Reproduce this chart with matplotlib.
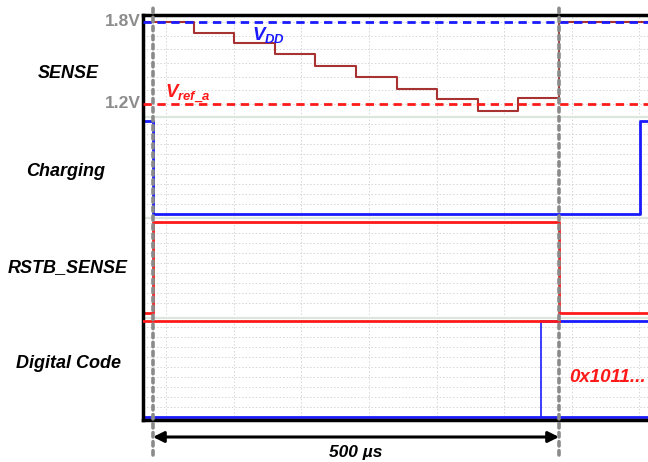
import matplotlib
matplotlib.use('Agg')
import matplotlib.pyplot as plt
import numpy as np

plt.rcParams['font.family'] = ['Liberation Sans', 'DejaVu Sans']
plt.rcParams['mathtext.fontset'] = 'custom'
plt.rcParams['mathtext.it'] = 'Liberation Sans:italic:bold'
plt.rcParams['mathtext.rm'] = 'Liberation Sans:bold'

# time axis in microseconds
t_start, t_end = -12.3, 609.6
t_mark = [0, 500]

# SENSE staircase (V) - one step every 50 us, then reset to VDD
sense_t = [-12.3, 50, 100, 150, 200, 250, 300, 350, 400, 450, 500, 609.6]
sense_v = [1.8, 1.722, 1.644, 1.566, 1.48, 1.395, 1.312, 1.234, 1.149, 1.246, 1.8, 1.8]
vdd = 1.8
vref = 1.2

# digital traces (1 = high, 0 = low)
chg_t = [-12.3, 0, 600, 609.6]
chg_v = [1, 0, 1, 1]
rst_t = [-12.3, 0, 500, 609.6]
rst_v = [0, 1, 0, 0]
code_red_t = [-12.3, 500]
code_blue_t = [477.8, 609.6]

labels = ['SENSE', 'Charging', 'RSTB_SENSE', 'Digital Code']

fig = plt.figure(figsize=(6.48, 4.62), dpi=100)
ax = fig.add_axes([143 / 648, 42 / 462, 1 - 143 / 648, 405 / 462])
ax.set_xlim(t_start, t_end)
ax.set_ylim(0, 40.5)


# lane helpers: y in "pixel/10" units from the bottom of the axes
def sense_y(v):
    return 31.6 + (np.asarray(v) - 1.2) / 0.6 * 8.2


lanes = {'chg': (20.6, 29.9), 'rst': (10.7, 19.8), 'code': (0.35, 9.95)}


def lane_y(key, v):
    lo, hi = lanes[key]
    return lo + np.asarray(v) * (hi - lo)


# grid
grid_kw = dict(color='#d6d6d6', lw=0.7, ls=(0, (1.5, 2)), zorder=0)
for tg in np.arange(16, t_end, 83.3):
    ax.axvline(tg, **grid_kw)
for v in np.arange(1.2, 1.85, 0.1):
    ax.axhline(sense_y(v), **grid_kw)
for base in [20.6, 10.7, 0.35]:
    for k in range(1, 10):
        ax.axhline(base + k * 1.0, **grid_kw)
for sep in [30.3, 20.2, 10.2]:
    ax.axhline(sep, color='#dde6dd', lw=1.6, zorder=0)

# SENSE lane
ax.plot(sense_t, sense_y(sense_v), drawstyle='steps-post', color='#a83232', lw=1.5, zorder=2)
ax.axhline(sense_y(vdd), color='#1a1aff', lw=2, ls=(0, (3, 2)), zorder=3)
ax.axhline(sense_y(vref), color='#ff1a1a', lw=2, ls=(0, (3, 2)), zorder=3)

# Charging / RSTB_SENSE
ax.plot(chg_t, lane_y('chg', chg_v), drawstyle='steps-post', color='#1a1aff', lw=2, zorder=2)
ax.plot(rst_t, lane_y('rst', rst_v), drawstyle='steps-post', color='#ff1a1a', lw=2, zorder=2)

# Digital Code bus
ax.plot([t_start, t_end], lane_y('code', [0, 0]), color='#1a1aff', lw=2, zorder=2)
ax.plot(code_blue_t, lane_y('code', [1, 1]), color='#1a1aff', lw=2, zorder=2)
ax.plot([code_blue_t[0]] * 2, lane_y('code', [0, 1]), color='#1a1aff', lw=1.2, zorder=2)
ax.plot(code_red_t, lane_y('code', [1, 1]), color='#ff1a1a', lw=2, zorder=3)

# frame
ax.spines['right'].set_visible(False)
for s in ['left', 'top', 'bottom']:
    ax.spines[s].set_linewidth(2.5)
ax.set_xticks([])
ax.set_yticks([])

# markers at 0 and 500 us
for tm in t_mark:
    ax.plot([tm, tm], [-3.5, 41.5], color='#8a8a8a', lw=2.6, ls=(0, (1.2, 1.3)),
            dash_capstyle='round', clip_on=False, zorder=4)
ax.annotate('', xy=(t_mark[0], -1.7), xytext=(t_mark[1], -1.7),
            arrowprops=dict(arrowstyle='<|-|>', color='black', lw=2.2,
                            mutation_scale=16, shrinkA=0, shrinkB=0),
            annotation_clip=False)
ax.text(np.mean(t_mark), -3.2, '500 µs', ha='center', va='center',
        fontsize=12.5, fontweight='bold', fontstyle='italic')

# inline labels
ax.text(122, sense_y(1.705), r'$V_{DD}$', color='#1a1aff', fontsize=13.5, ha='left', va='center')
ax.text(15, sense_y(1.273), r'$V_{ref\_a}$', color='#ff1a1a', fontsize=13.5, ha='left', va='center')
ax.text(513, 4.2, '0x1011...', color='#ff1a1a', fontsize=13.5, fontweight='bold',
        fontstyle='italic', ha='left', va='center')

# voltage labels
ax.text(t_start - 3, sense_y(1.8), '1.8V', color='#8c8c8c', fontsize=12.5, fontweight='bold',
        ha='right', va='center', clip_on=False)
ax.text(t_start - 3, sense_y(1.2), '1.2V', color='#8c8c8c', fontsize=12.5, fontweight='bold',
        ha='right', va='center', clip_on=False)

# lane names
for name, (x, y) in zip(labels, [(68, 74), (66, 171), (68, 268), (69, 363)]):
    fig.text(x / 648, 1 - y / 462, name, ha='center', va='center', fontsize=13,
             fontweight='bold', fontstyle='italic')

fig.savefig('out.png', dpi=100)
